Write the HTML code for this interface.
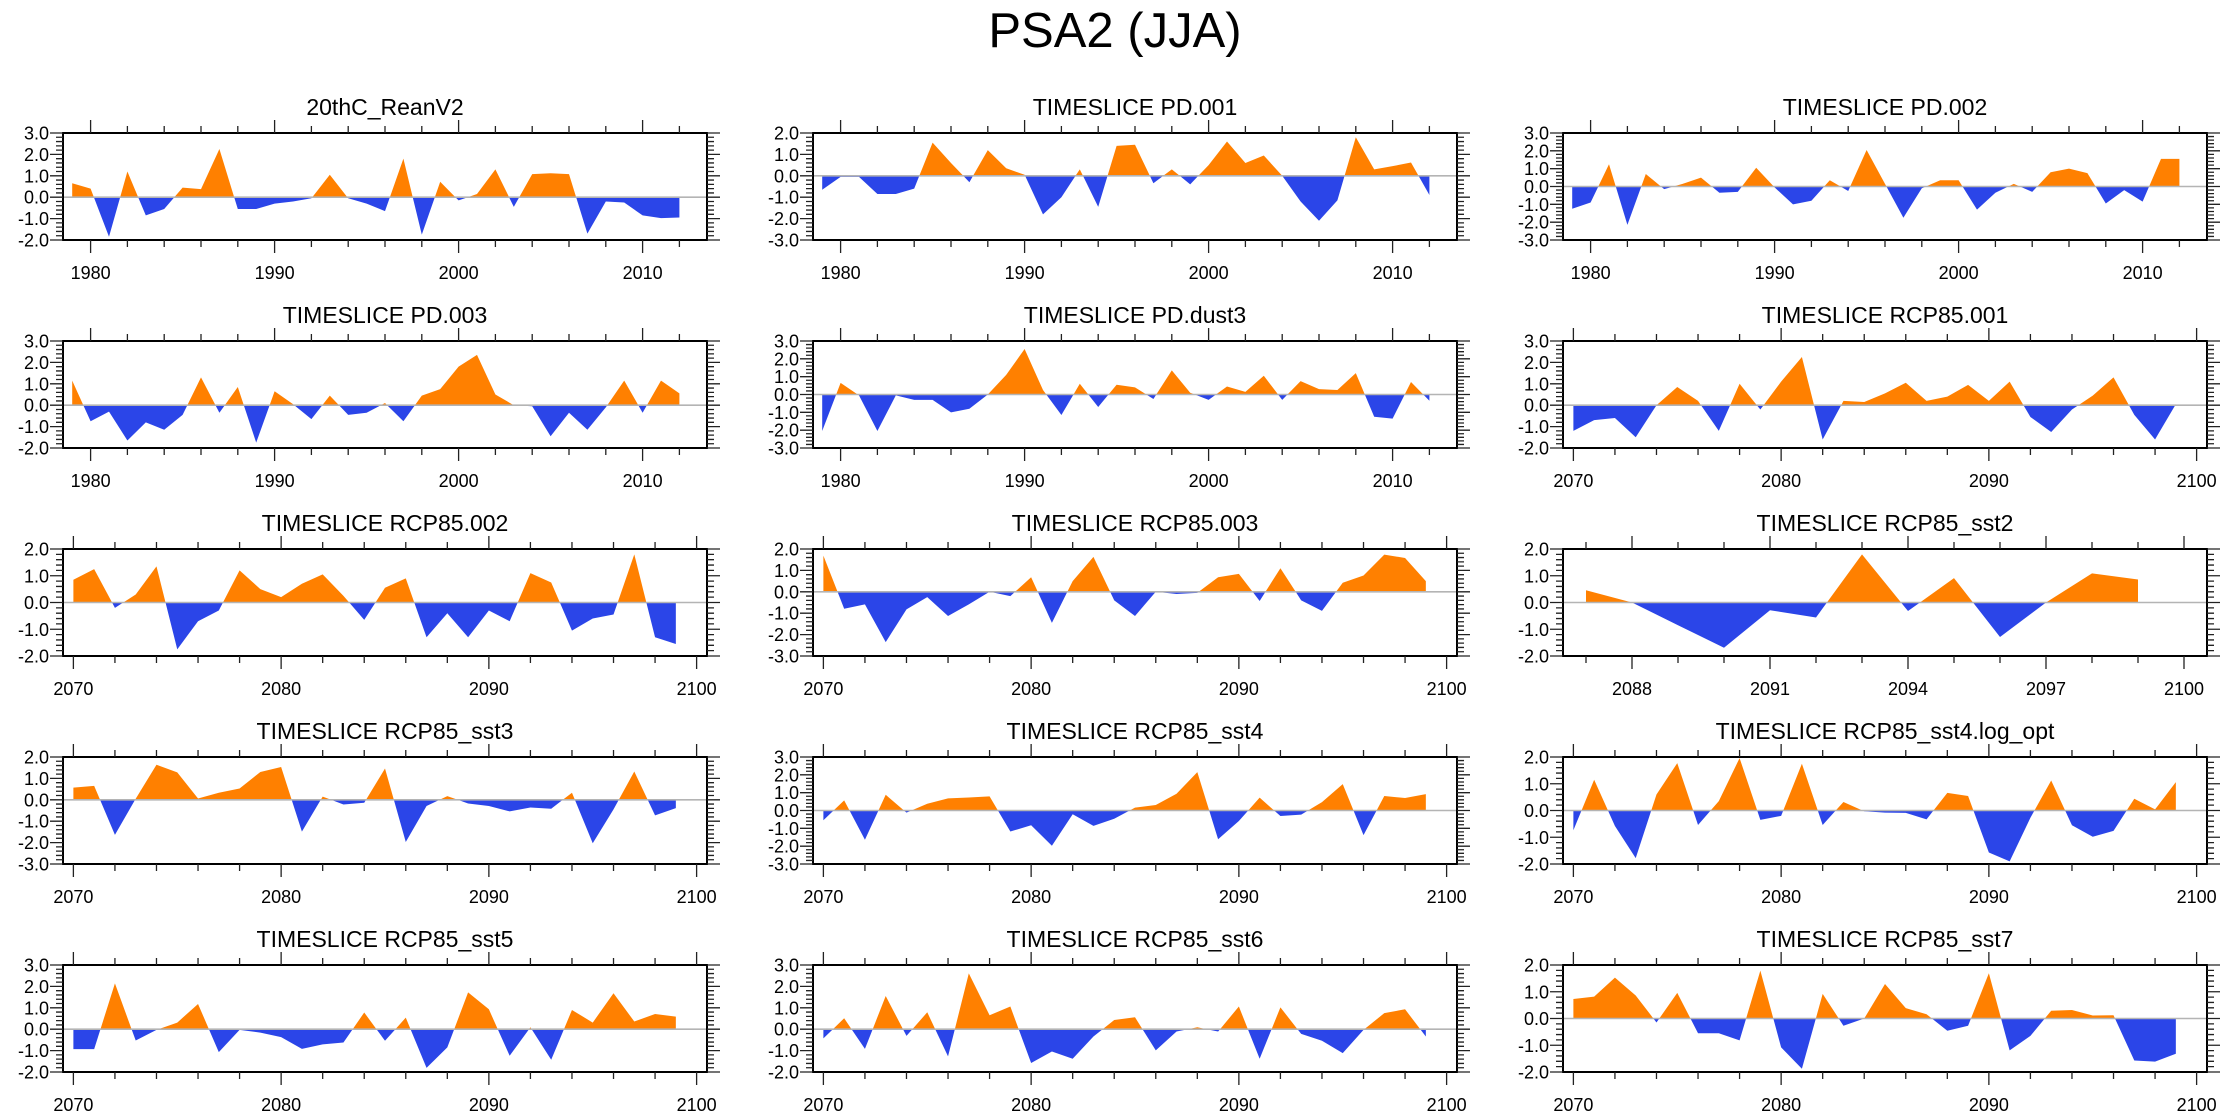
<!DOCTYPE html>
<html>
<head>
<meta charset="utf-8">
<style>
html,body{margin:0;padding:0;background:#fff;}
svg{display:block;font-family:"Liberation Sans",Arial,sans-serif;}
</style>
</head>
<body>
<svg id="chart" xmlns="http://www.w3.org/2000/svg" width="2230" height="1120" viewBox="0 0 2230 1120">
<rect x="0" y="0" width="2230" height="1120" fill="#ffffff"/>
<text x="1115" y="47" font-size="49" text-anchor="middle" fill="#000">PSA2 (JJA)</text>
</svg>
<script>
// ---- data ----
const titles = ["20thC_ReanV2","TIMESLICE PD.001","TIMESLICE PD.002",
"TIMESLICE PD.003","TIMESLICE PD.dust3","TIMESLICE RCP85.001",
"TIMESLICE RCP85.002","TIMESLICE RCP85.003","TIMESLICE RCP85_sst2",
"TIMESLICE RCP85_sst3","TIMESLICE RCP85_sst4","TIMESLICE RCP85_sst4.log_opt",
"TIMESLICE RCP85_sst5","TIMESLICE RCP85_sst6","TIMESLICE RCP85_sst7"];
const firstYears = [1979,1979,1979,1979,1979,2070,2070,2070,2087,2070,2070,2070,2070,2070,2070];
const yMins = [-2,-3,-3,-2,-3,-2,-2,-3,-2,-3,-3,-2,-2,-2,-2];
const yMaxs = [3,2,3,3,3,3,2,2,2,2,3,2,3,3,2];
const vReanV2 = [0.65,0.4,-1.85,1.2,-0.85,-0.55,0.45,0.38,2.25,-0.55,-0.55,-0.3,-0.2,-0.05,1.05,-0.05,-0.3,-0.65,1.8,-1.75,0.72,-0.15,0.15,1.3,-0.45,1.08,1.12,1.08,-1.7,-0.2,-0.25,-0.85,-0.98,-0.95];
const vPD001 = [-0.65,-0.05,-0.05,-0.85,-0.85,-0.6,1.55,0.6,-0.3,1.2,0.35,0.05,-1.8,-1.0,0.3,-1.45,1.4,1.45,-0.35,0.3,-0.4,0.5,1.6,0.6,0.95,0.0,-1.2,-2.1,-1.15,1.8,0.3,0.45,0.62,-0.9];
const vPD002 = [-1.25,-0.9,1.25,-2.15,0.7,-0.15,0.15,0.5,-0.35,-0.3,1.05,-0.05,-1.0,-0.8,0.35,-0.25,2.05,0.15,-1.75,-0.1,0.35,0.35,-1.3,-0.35,0.15,-0.3,0.8,1.0,0.75,-0.95,-0.2,-0.85,1.55,1.55];
const vPD003 = [1.15,-0.75,-0.3,-1.65,-0.8,-1.15,-0.45,1.3,-0.35,0.85,-1.75,0.65,0.05,-0.65,0.45,-0.45,-0.35,0.1,-0.75,0.45,0.75,1.8,2.35,0.5,0.0,-0.05,-1.45,-0.35,-1.15,-0.1,1.15,-0.35,1.15,0.55];
const vPDdust3 = [-2.05,0.65,-0.05,-2.05,-0.05,-0.3,-0.3,-1.0,-0.8,0.0,1.1,2.55,0.25,-1.15,0.6,-0.7,0.55,0.4,-0.25,1.35,0.1,-0.3,0.45,0.15,1.05,-0.3,0.75,0.3,0.25,1.2,-1.25,-1.35,0.7,-0.35];
const vRCP001 = [-1.2,-0.7,-0.6,-1.5,0.0,0.85,0.2,-1.2,1.0,-0.2,1.1,2.25,-1.6,0.2,0.15,0.55,1.05,0.2,0.4,0.95,0.2,1.1,-0.55,-1.25,-0.2,0.45,1.3,-0.45,-1.6,0.05];
const vRCP002 = [0.85,1.25,-0.2,0.3,1.35,-1.75,-0.7,-0.3,1.2,0.5,0.2,0.7,1.05,0.25,-0.65,0.55,0.9,-1.3,-0.4,-1.3,-0.3,-0.7,1.1,0.75,-1.05,-0.6,-0.45,1.8,-1.3,-1.55];
const vRCP003 = [1.69,-0.79,-0.59,-2.35,-0.82,-0.25,-1.13,-0.59,0.0,-0.2,0.68,-1.45,0.5,1.63,-0.4,-1.13,0.0,-0.1,-0.05,0.68,0.84,-0.43,1.1,-0.4,-0.89,0.42,0.76,1.74,1.58,0.5];
const vSst2 = [0.46,0.0,-0.85,-1.69,-0.29,-0.56,1.8,-0.32,0.91,-1.29,0.0,1.09,0.86];
const vSst3 = [0.57,0.65,-1.64,0.05,1.64,1.28,0.06,0.33,0.53,1.3,1.53,-1.49,0.15,-0.22,-0.14,1.46,-1.97,-0.29,0.17,-0.17,-0.29,-0.54,-0.36,-0.42,0.33,-2.03,-0.45,1.32,-0.73,-0.39];
const vSst4 = [-0.55,0.57,-1.64,0.88,-0.12,0.38,0.68,0.73,0.79,-1.18,-0.83,-1.98,-0.21,-0.86,-0.46,0.16,0.31,0.94,2.15,-1.61,-0.59,0.72,-0.31,-0.23,0.47,1.48,-1.38,0.81,0.7,0.92];
const vSst4log = [-0.74,1.15,-0.58,-1.78,0.6,1.77,-0.54,0.35,1.96,-0.35,-0.2,1.75,-0.54,0.32,-0.03,-0.08,-0.09,-0.33,0.66,0.54,-1.57,-1.9,-0.27,1.12,-0.55,-0.98,-0.76,0.44,0.04,1.06];
const vSst5 = [-0.93,-0.93,2.14,-0.53,-0.03,0.31,1.18,-1.07,-0.03,-0.16,-0.37,-0.92,-0.71,-0.62,0.78,-0.54,0.54,-1.81,-0.85,1.72,0.93,-1.24,0.09,-1.43,0.9,0.31,1.68,0.36,0.71,0.59];
const vSst6 = [-0.43,0.51,-0.92,1.55,-0.31,0.79,-1.27,2.61,0.65,1.06,-1.58,-1.04,-1.38,-0.34,0.43,0.56,-0.99,-0.11,0.09,-0.11,1.06,-1.38,1.02,-0.22,-0.54,-1.12,-0.03,0.75,0.93,-0.34];
const vSst7 = [0.73,0.82,1.53,0.86,-0.15,0.96,-0.55,-0.55,-0.82,1.79,-1.08,-1.88,0.92,-0.27,0.0,1.29,0.39,0.16,-0.46,-0.27,1.69,-1.19,-0.65,0.29,0.32,0.11,0.12,-1.57,-1.61,-1.32];
const seriesList = [vReanV2,vPD001,vPD002,vPD003,vPDdust3,vRCP001,vRCP002,vRCP003,vSst2,vSst3,vSst4,vSst4log,vSst5,vSst6,vSst7];
const panelNames = ["20thc-reanv2","pd-001","pd-002","pd-003","pd-dust3","rcp85-001","rcp85-002","rcp85-003","rcp85-sst2","rcp85-sst3","rcp85-sst4","rcp85-sst4-log-opt","rcp85-sst5","rcp85-sst6","rcp85-sst7"];

// ---- drawing ----
const NS = "http://www.w3.org/2000/svg";
const svg = document.getElementById("chart");
const PW = 644, PH = 107;
function mk(tag, attrs, parent){
  const e = document.createElementNS(NS, tag);
  for (const k in attrs) e.setAttribute(k, attrs[k]);
  parent.appendChild(e);
  return e;
}
function drawPanel(i){
  const col = i % 3, row = Math.floor(i / 3);
  const left = 63 + 750 * col, top = 133 + 208 * row;
  const vals = seriesList[i], fy = firstYears[i];
  const ymin = yMins[i], ymax = yMaxs[i];
  let x0, x1, major, minor;
  if (fy === 2087) { x0 = 2086.5; x1 = 2100.5; major = 3; minor = 1; }
  else if (fy >= 2000) { x0 = 2069.5; x1 = 2100.5; major = 10; minor = 2; }
  else { x0 = 1978.5; x1 = 2013.5; major = 10; minor = 2; }
  const sx = t => left + (t - x0) / (x1 - x0) * PW;
  const sy = v => top + (ymax - v) / (ymax - ymin) * PH;
  const g = mk("g", {}, svg);
  
  
  const pts = [];
  for (let k = 0; k < vals.length; k++) {
    const t = fy + k, v = vals[k];
    if (k > 0) {
      const pv = vals[k-1];
      if ((pv > 0 && v < 0) || (pv < 0 && v > 0)) {
        const f = pv / (pv - v);
        pts.push([t - 1 + f, 0]);
      }
    }
    pts.push([t, v]);
  }
  let dp = "M" + sx(pts[0][0]) + "," + sy(0);
  let dn = dp;
  for (const p of pts) {
    dp += " L" + sx(p[0]) + "," + sy(Math.max(p[1], 0));
    dn += " L" + sx(p[0]) + "," + sy(Math.min(p[1], 0));
  }
  const endx = sx(pts[pts.length-1][0]);
  dp += " L" + endx + "," + sy(0) + " Z";
  dn += " L" + endx + "," + sy(0) + " Z";
  const pos = mk("path", {d: dp, fill: "#ff8000", stroke: "none"}, g);
  
  
  const neg = mk("path", {d: dn, fill: "#2b45e8", stroke: "none"}, g);
  
  
  const zl = mk("line", {x1: left, x2: left + PW, y1: sy(0), y2: sy(0), stroke: "#b4b4b4", "stroke-width": 1.6}, g);
  
  
  const box = mk("rect", {x: left, y: top, width: PW, height: PH, fill: "none", stroke: "#000", "stroke-width": 2}, g);
  
  
  let td = "";
  for (let k = ymin * 5; k <= ymax * 5; k++) {
    const y = sy(k / 5);
    const len = (k % 5 === 0) ? 13 : 7;
    td += "M" + (left - len) + "," + y + " H" + left + " M" + (left + PW) + "," + y + " H" + (left + PW + len) + " ";
    if (k % 5 === 0) {
      const lb = mk("text", {x: left - 14, y: y + 6.5, "font-size": 18, "text-anchor": "end", fill: "#000"}, g);
      
      
      lb.textContent = (k / 5).toFixed(1);
    }
  }
  const startMinor = Math.ceil(x0 / minor) * minor;
  for (let t = startMinor; t <= x1; t += minor) {
    const x = sx(t);
    const isMaj = (major === 3) ? ((t - 2088) % 3 === 0) : (t % major === 0);
    const len = isMaj ? 13 : 7;
    td += "M" + x + "," + (top - len) + " V" + top + " M" + x + "," + (top + PH) + " V" + (top + PH + len) + " ";
    if (isMaj) {
      const xl = mk("text", {x: x, y: top + PH + 39, "font-size": 18, "text-anchor": "middle", fill: "#000"}, g);
      
      
      xl.textContent = String(t);
    }
  }
  const ticks = mk("path", {d: td, stroke: "#222", "stroke-width": 1.3, fill: "none"}, g);
  
  
  const tt = mk("text", {x: left + PW / 2, y: top - 18, "font-size": 23, "text-anchor": "middle", fill: "#000"}, g);
  
  
  tt.textContent = titles[i];
}
for (let i = 0; i < 15; i++) drawPanel(i);
</script>
</body>
</html>
